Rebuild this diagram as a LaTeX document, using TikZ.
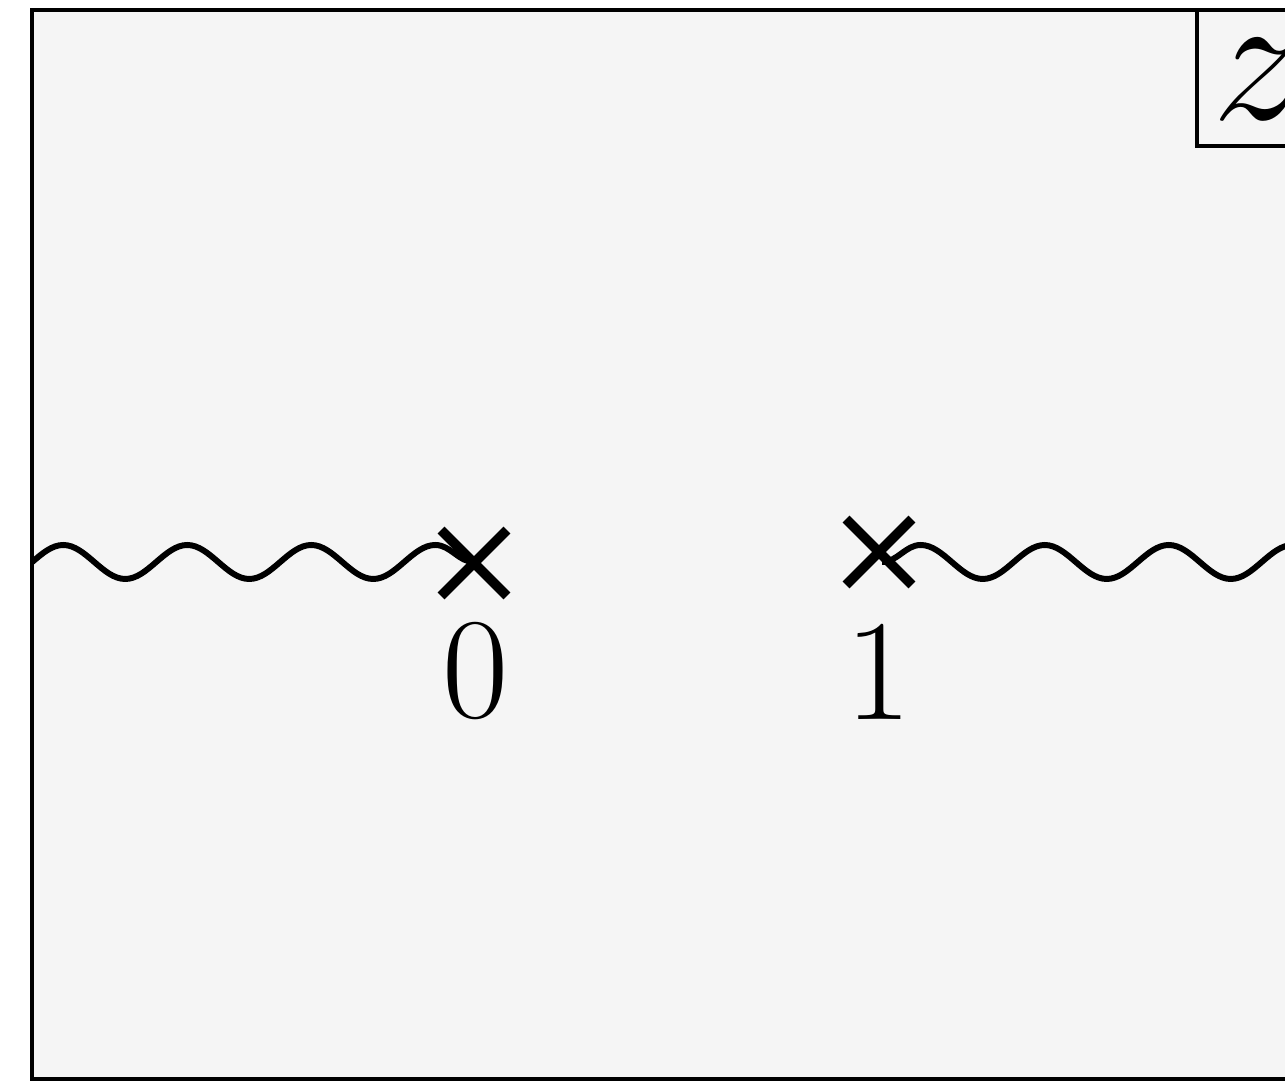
\RequirePackage{fix-cm}
\documentclass[tikz,border=0pt]{standalone}
\usepackage{tikz}
\usetikzlibrary{decorations.pathmorphing, shapes.misc}

\begin{document}
\begin{tikzpicture}[
    plane/.style = {draw=black, line width=1.15pt, fill=gray!8},
    cut/.style = {line width=1.7pt, decorate, decoration={snake, segment length=1.24cm, amplitude=0.17cm}},
    branchpt/.style = {cross out, draw=black, line width=2.8pt, minimum size=0.56cm, inner sep=0pt},
    ptlabel/.style = {font=\fontsize{41}{48}\selectfont, inner sep=0pt, anchor=base}
]
\useasboundingbox (0,0) rectangle (12.85,10.83);
\clip (0,0) rectangle (12.85,10.83);

% Plane
\draw [plane] (0.32,0.04) rectangle (13.5,10.73);

% Variable box
\draw [line width=1.15pt] (11.97,10.73) -- (11.97,9.37) -- (13.5,9.37);
\node (zlab) [font=\fontsize{53}{60}\selectfont, inner sep=0pt, anchor=base west] at (12.12,9.63) {$z$};

% Branch points and cuts
\coordinate (cutL) at (-1.0,5.21);
\coordinate (z0) at (4.74,5.21);
\coordinate (z1) at (8.82,5.21);
\coordinate (cutR) at (14.2,5.21);
\begin{scope}
  \clip (0.32,0.04) rectangle (13.5,10.73);
  \draw [cut, decoration={amplitude=-0.17cm}] (z0) -- (cutL);
  \draw [cut] (z1) -- (cutR);
\end{scope}
\node (x0) [branchpt] at (4.74,5.20) {};
\node (x1) [branchpt] at (8.79,5.31) {};

% Labels
\node (l0) [ptlabel] at (4.76,3.65) {0};
\node (l1) [ptlabel] at (8.79,3.63) {1};

\end{tikzpicture}
\end{document}
